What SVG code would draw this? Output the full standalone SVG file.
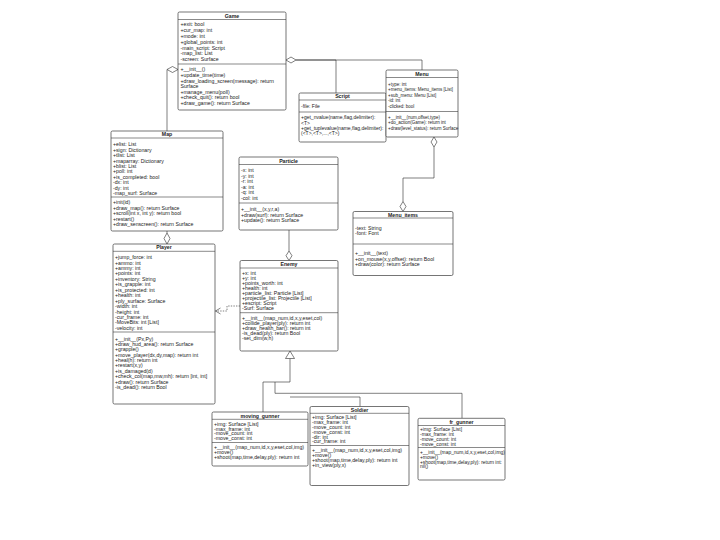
<svg xmlns="http://www.w3.org/2000/svg" width="720" height="540" viewBox="0 0 720 540">
<style>
.bg{fill:#ffffff}
.box{fill:#ffffff;stroke:#3a3a3a;stroke-width:0.7}
.sep{stroke:#3a3a3a;stroke-width:0.6}
.t{font-family:"Liberation Sans",Arial,sans-serif;font-size:5.2px;fill:#222}
.h{font-family:"Liberation Sans",Arial,sans-serif;font-size:5.2px;font-weight:bold;fill:#222;text-anchor:middle}
.s{font-size:4.9px}
.m{font-size:4.5px}
.k{font-size:5px}
.ln{fill:none;stroke:#2a2a2a;stroke-width:0.6}
.dash{fill:none;stroke:#2a2a2a;stroke-width:0.6;stroke-dasharray:1.4,1.2}
.dm{fill:#ffffff;stroke:#2a2a2a;stroke-width:0.6}
</style>
<rect class="bg" x="0" y="0" width="720" height="540"/>

<g id="connectors">
  <path class="ln" d="M167,69.5 V131"/>
  <polygon class="dm" points="178,69.5 172.5,66.5 167,69.5 172.5,72.5"/>
  <path class="ln" d="M296,60 H336 V93"/>
  <path class="ln" d="M296,60 H422 V70"/>
  <polygon class="dm" points="286,60 291,57 296,60 291,63"/>
  <path class="ln" d="M167,231 V233"/>
  <polygon class="dm" points="167,233 170,238.5 167,244 164,238.5"/>
  <path class="ln" d="M434,147 V178 H403 V201.5"/>
  <polygon class="dm" points="434,137 437,142 434,147 431,142"/>
  <polygon class="dm" points="403,201.5 406,206.5 403,211.5 400,206.5"/>
  <path class="ln" d="M289,230 V251"/>
  <polygon class="dm" points="289,251 292,255.7 289,260.5 286,255.7"/>
  <path class="dash" d="M240,306 H227 V311 H215.5"/>
  <path class="ln" d="M220.5,308 L215.5,311 L220.5,314"/>
  <path class="ln" d="M263,412 V382 H290 V358.5"/>
  <path class="ln" d="M360,406.5 V397 H290"/>
  <path class="ln" d="M462,418.3 V393.3 H275 V382"/>
  <polygon class="dm" points="290,351 294.5,358.5 285.5,358.5"/>
</g>

<g id="Game">
  <rect class="box" x="178" y="12" width="108" height="98" rx="1.5"/>
  <line class="sep" x1="178" y1="19.5" x2="286" y2="19.5"/>
  <line class="sep" x1="178" y1="64" x2="286" y2="64"/>
  <text class="h" x="232" y="17.6">Game</text>
  <text class="t" x="180.5" y="26.3">+exit: bool</text>
  <text class="t" x="180.5" y="32.1">+cur_map: int</text>
  <text class="t" x="180.5" y="37.9">+mode: int</text>
  <text class="t" x="180.5" y="43.7">+global_points: int</text>
  <text class="t" x="180.5" y="49.5">-main_script: Script</text>
  <text class="t" x="180.5" y="55.3">-map_list: List</text>
  <text class="t" x="180.5" y="61.1">-screen: Surface</text>
  <text class="t" x="180.5" y="71.3">+__init__()</text>
  <text class="t" x="180.5" y="76.9">+update_time(time)</text>
  <text class="t" x="180.5" y="82.5">+draw_loading_screen(message): return</text>
  <text class="t" x="180.5" y="88.1">Surface</text>
  <text class="t" x="180.5" y="93.7">+manage_menu(poll)</text>
  <text class="t" x="180.5" y="99.3">+check_quit(): return bool</text>
  <text class="t" x="180.5" y="104.9">+draw_game(): return Surface</text>
</g>

<g id="Script">
  <rect class="box" x="299" y="93" width="87" height="49" rx="1.5"/>
  <line class="sep" x1="299" y1="100" x2="386" y2="100"/>
  <line class="sep" x1="299" y1="112" x2="386" y2="112"/>
  <text class="h" x="342.5" y="98.3">Script</text>
  <text class="t k" x="301" y="108.3">-file: File</text>
  <text class="t k" x="301" y="119.3">+get_nvalue(name,flag,delimiter):</text>
  <text class="t k" x="301" y="124.5">&lt;T&gt;</text>
  <text class="t k" x="301" y="129.8">+get_tuplevalue(name,flag,delimiter):</text>
  <text class="t k" x="301" y="135">(&lt;T&gt;,&lt;T&gt;,...,&lt;T&gt;)</text>
</g>

<g id="Menu">
  <rect class="box" x="386" y="70" width="72" height="67" rx="1.5"/>
  <line class="sep" x1="386" y1="77.5" x2="458" y2="77.5"/>
  <line class="sep" x1="386" y1="111.5" x2="458" y2="111.5"/>
  <text class="h" x="422" y="75.8">Menu</text>
  <text class="t m" x="388" y="85.5">+type: int</text>
  <text class="t m" x="388" y="91">+menu_items: Menu_items [List]</text>
  <text class="t m" x="388" y="96.5">+sub_menu: Menu [List]</text>
  <text class="t m" x="388" y="102">-id: int</text>
  <text class="t m" x="388" y="107.5">-clicked: bool</text>
  <text class="t m" x="388" y="118.5">+__init__(num,offset,type)</text>
  <text class="t m" x="388" y="124">+do_action(Game): return int</text>
  <text class="t m" x="388" y="129.5">+draw(level_status): return Surface</text>
</g>

<g id="Menu_items">
  <rect class="box" x="353" y="211.5" width="100" height="64" rx="1.5"/>
  <line class="sep" x1="353" y1="218" x2="453" y2="218"/>
  <line class="sep" x1="353" y1="244" x2="453" y2="244"/>
  <text class="h" x="403" y="216.6">Menu_items</text>
  <text class="t" x="355" y="229.8">-text: String</text>
  <text class="t" x="355" y="235.2">-font: Font</text>
  <text class="t" x="355" y="255.3">+__init__(text)</text>
  <text class="t" x="355" y="260.8">+on_mouse(x,y,offset): return Bool</text>
  <text class="t" x="355" y="266.3">+draw(color): return Surface</text>
</g>

<g id="Map">
  <rect class="box" x="111" y="131" width="112" height="100" rx="1.5"/>
  <line class="sep" x1="111" y1="138" x2="223" y2="138"/>
  <line class="sep" x1="111" y1="197" x2="223" y2="197"/>
  <text class="h" x="167" y="136.3">Map</text>
  <text class="t" x="113" y="146.3">+elist: List</text>
  <text class="t" x="113" y="151.7">+sign: Dictionary</text>
  <text class="t" x="113" y="157.1">+tlist: List</text>
  <text class="t" x="113" y="162.5">+maparray: Dictionary</text>
  <text class="t" x="113" y="167.9">+blist: List</text>
  <text class="t" x="113" y="173.3">+poll: int</text>
  <text class="t" x="113" y="178.7">+is_completed: bool</text>
  <text class="t" x="113" y="184.1">-dx: int</text>
  <text class="t" x="113" y="189.5">-dy: int</text>
  <text class="t" x="113" y="194.9">-map_surf: Surface</text>
  <text class="t" x="113" y="204.3">+init(id)</text>
  <text class="t" x="113" y="209.7">+draw_map(): return Surface</text>
  <text class="t" x="113" y="215.1">+scroll(int x, int y): return bool</text>
  <text class="t" x="113" y="220.5">+restart()</text>
  <text class="t" x="113" y="225.9">+draw_senscreen(): return Surface</text>
</g>

<g id="Particle">
  <rect class="box" x="239" y="157" width="99" height="73" rx="1.5"/>
  <line class="sep" x1="239" y1="164.5" x2="338" y2="164.5"/>
  <line class="sep" x1="239" y1="203" x2="338" y2="203"/>
  <text class="h" x="288.5" y="162.6">Particle</text>
  <text class="t" x="241" y="172.1">-x: int</text>
  <text class="t" x="241" y="177.6">-y: int</text>
  <text class="t" x="241" y="183.1">-r: int</text>
  <text class="t" x="241" y="188.6">-a: int</text>
  <text class="t" x="241" y="194.1">-q: int</text>
  <text class="t" x="241" y="199.6">-col: int</text>
  <text class="t" x="241" y="210.8">+__init__(x,y,r,a)</text>
  <text class="t" x="241" y="216.6">+draw(surf): return Surface</text>
  <text class="t" x="241" y="222.4">+update(): return Surface</text>
</g>

<g id="Player">
  <rect class="box" x="113" y="244" width="102" height="160" rx="1.5"/>
  <line class="sep" x1="113" y1="251.3" x2="215" y2="251.3"/>
  <line class="sep" x1="113" y1="332" x2="215" y2="332"/>
  <text class="h" x="164" y="249.3">Player</text>
  <text class="t" x="115" y="259.1">+jump_force: int</text>
  <text class="t" x="115" y="264.5">+ammo: int</text>
  <text class="t" x="115" y="270">+ammy: int</text>
  <text class="t" x="115" y="275.4">+points: int</text>
  <text class="t" x="115" y="280.9">+inventory: String</text>
  <text class="t" x="115" y="286.3">+is_grapple: int</text>
  <text class="t" x="115" y="291.7">+is_protected: int</text>
  <text class="t" x="115" y="297.2">+health: int</text>
  <text class="t" x="115" y="302.6">+ply_surface: Surface</text>
  <text class="t" x="115" y="308.1">-width: int</text>
  <text class="t" x="115" y="313.5">-height: int</text>
  <text class="t" x="115" y="318.9">-cur_frame: int</text>
  <text class="t" x="115" y="324.4">-MoveBits: int [List]</text>
  <text class="t" x="115" y="329.8">-velocity: int</text>
  <text class="t" x="115" y="340.5">+__init__(Px,Py)</text>
  <text class="t" x="115" y="345.9">+draw_hud_area(): return Surface</text>
  <text class="t" x="115" y="351.2">+grapple()</text>
  <text class="t" x="115" y="356.6">+move_player(dx,dy,map): return int</text>
  <text class="t" x="115" y="362">+heal(h): return int</text>
  <text class="t" x="115" y="367.4">+restart(x,y)</text>
  <text class="t" x="115" y="372.7">+is_damaged(d)</text>
  <text class="t" x="115" y="378.1">+check_col(map,mw,mh): return [int, int]</text>
  <text class="t" x="115" y="383.5">+draw(): return Surface</text>
  <text class="t" x="115" y="388.8">-is_dead(): return Bool</text>
</g>

<g id="Enemy">
  <rect class="box" x="240" y="260.5" width="98" height="90.5" rx="1.5"/>
  <line class="sep" x1="240" y1="268" x2="338" y2="268"/>
  <line class="sep" x1="240" y1="312.7" x2="338" y2="312.7"/>
  <text class="h" x="289" y="266.3">Enemy</text>
  <text class="t" x="242" y="275.3">+x: int</text>
  <text class="t" x="242" y="280.3">+y: int</text>
  <text class="t" x="242" y="285.3">+points_worth: int</text>
  <text class="t" x="242" y="290.3">+health: int</text>
  <text class="t" x="242" y="295.3">+particle_list: Particle [List]</text>
  <text class="t" x="242" y="300.3">+projectile_list: Projectile [List]</text>
  <text class="t" x="242" y="305.3">+escript: Script</text>
  <text class="t" x="242" y="310.3">-Surf: Surface</text>
  <text class="t" x="242" y="319.6">+__init__(map_num,id,x,y,eset,col)</text>
  <text class="t" x="242" y="324.6">+collide_player(ply): return int</text>
  <text class="t" x="242" y="329.6">+draw_health_bar(): return int</text>
  <text class="t" x="242" y="334.6">-is_dead(ply): return Bool</text>
  <text class="t" x="242" y="339.6">-set_dim(w,h)</text>
</g>

<g id="moving_gunner">
  <rect class="box" x="212" y="412" width="96" height="54" rx="1.5"/>
  <line class="sep" x1="212" y1="419.3" x2="308" y2="419.3"/>
  <line class="sep" x1="212" y1="442.5" x2="308" y2="442.5"/>
  <text class="h" x="260" y="417.8">moving_gunner</text>
  <text class="t" x="214" y="426">+img: Surface [List]</text>
  <text class="t" x="214" y="430.7">-max_frame: int</text>
  <text class="t" x="214" y="435.4">-move_count: int</text>
  <text class="t" x="214" y="440.1">-move_const: int</text>
  <text class="t" x="214" y="449.3">+__init__(map_num,id,x,y,eset,col,img)</text>
  <text class="t" x="214" y="454.1">+move()</text>
  <text class="t" x="214" y="458.9">+shoot(map,time,delay,ply): return int</text>
</g>

<g id="Soldier">
  <rect class="box" x="310" y="406.5" width="99" height="79" rx="1.5"/>
  <line class="sep" x1="310" y1="413.3" x2="409" y2="413.3"/>
  <line class="sep" x1="310" y1="445.5" x2="409" y2="445.5"/>
  <text class="h" x="359.5" y="411.8">Soldier</text>
  <text class="t" x="312" y="419.4">+img: Surface [List]</text>
  <text class="t" x="312" y="424.2">-max_frame: int</text>
  <text class="t" x="312" y="429">-move_count: int</text>
  <text class="t" x="312" y="433.8">-move_const: int</text>
  <text class="t" x="312" y="438.6">-dir: int</text>
  <text class="t" x="312" y="443.4">-cur_frame: int</text>
  <text class="t" x="312" y="452.1">+__init__(map_num,id,x,y,eset,col,img)</text>
  <text class="t" x="312" y="457.1">+move()</text>
  <text class="t" x="312" y="462.1">+shoot(map,time,delay,ply): return int</text>
  <text class="t" x="312" y="467.1">+in_view(ply,x)</text>
</g>

<g id="fr_gunner">
  <rect class="box" x="418" y="418.3" width="87" height="61.7" rx="1.5"/>
  <line class="sep" x1="418" y1="425.5" x2="505" y2="425.5"/>
  <line class="sep" x1="418" y1="447.5" x2="505" y2="447.5"/>
  <text class="h" x="461.5" y="424.1">fr_gunner</text>
  <text class="t s" x="420" y="431.3">+img: Surface [List]</text>
  <text class="t s" x="420" y="436.1">-max_frame: int</text>
  <text class="t s" x="420" y="440.8">-move_count: int</text>
  <text class="t s" x="420" y="445.5">-move_const: int</text>
  <text class="t s" x="420" y="454.1">+__init__(map_num,id,x,y,eset,col,img)</text>
  <text class="t s" x="420" y="458.8">+move()</text>
  <text class="t s" x="420" y="463.5">+shoot(map,time,delay,ply): return int:</text>
  <text class="t s" x="420" y="468.3">nil()</text>
</g>
</svg>
